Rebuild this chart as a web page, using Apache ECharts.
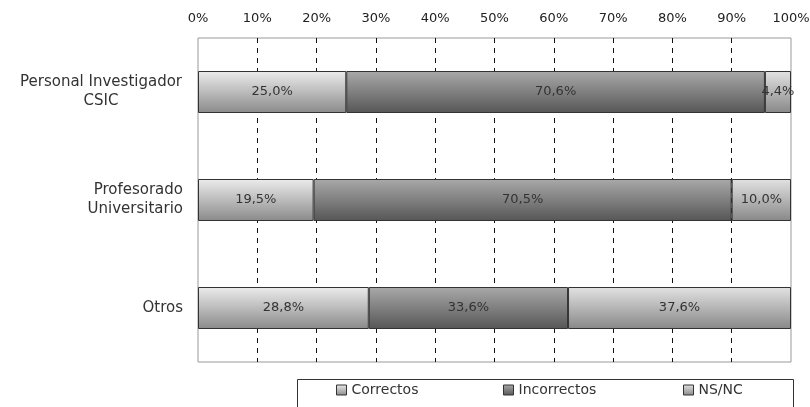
<!DOCTYPE html>
<html>
<head>
<meta charset="utf-8">
<script src="https://cdn.jsdelivr.net/npm/echarts@6/dist/echarts.min.js"></script>
<style>
  html, body { margin: 0; padding: 0; background: #fff; }
  #main { width: 810px; height: 407px; }
</style>
</head>
<body>
<div id="main"></div>
<script>
// datos
var categorias = ['Personal Investigador\nCSIC', 'Profesorado\nUniversitario', 'Otros'];
var correctos = [25.0, 19.5, 28.8];
var incorrectos = [70.6, 70.5, 33.6];
var nsnc = [4.4, 10.0, 37.6];
var ticksX = [0, 10, 20, 30, 40, 50, 60, 70, 80, 90, 100];

var fuente = 'DejaVu Sans';

function degradado(arriba, abajo) {
    return new echarts.graphic.LinearGradient(0, 0, 0, 1, [
        { offset: 0, color: arriba },
        { offset: 1, color: abajo }
    ]);
}

var claro = degradado('#ececec', '#8a8a8a');
var oscuro = degradado('#a9a9a9', '#565656');
var claro2 = degradado('#e2e2e2', '#888888');

function etiqueta(p) {
    return p.value.toFixed(1).replace('.', ',') + '%';
}

function serie(nombre, datos, color) {
    return {
        name: nombre,
        type: 'bar',
        stack: 'total',
        barWidth: 42,
        data: datos,
        itemStyle: { color: color, borderColor: '#333', borderWidth: 1 },
        label: {
            show: true,
            position: 'inside',
            formatter: etiqueta,
            color: '#333',
            fontFamily: fuente,
            fontSize: 13
        },
        emphasis: { disabled: true }
    };
}

function leyenda(nombre, x) {
    return {
        data: [nombre],
        left: x,
        top: 383,
        padding: 0,
        icon: 'rect',
        itemWidth: 10,
        itemHeight: 10,
        itemGap: 4,
        itemStyle: { borderColor: '#333', borderWidth: 1 },
        textStyle: { color: '#333', fontFamily: fuente, fontSize: 14 },
        selectedMode: false
    };
}

var myChart = echarts.init(document.getElementById('main'));

var option = {
    animation: false,
    grid: {
        left: 198,
        right: 19,
        top: 38,
        bottom: 45,
        outerBoundsMode: 'none',
        show: true,
        borderColor: '#999',
        borderWidth: 1
    },
    xAxis: {
        type: 'value',
        position: 'top',
        min: ticksX[0],
        max: ticksX[ticksX.length - 1],
        interval: 10,
        axisLine: { show: false },
        axisTick: { show: false },
        axisLabel: {
            formatter: '{value}%',
            color: '#222',
            fontFamily: fuente,
            fontSize: 13,
            margin: 13
        },
        splitLine: {
            showMinLine: false,
            showMaxLine: false,
            lineStyle: { color: '#111', type: [5, 5], width: 1 }
        }
    },
    yAxis: {
        type: 'category',
        inverse: true,
        data: categorias,
        axisLine: { show: false },
        axisTick: { show: false },
        axisLabel: {
            margin: 15,
            color: '#333',
            fontFamily: fuente,
            fontSize: 15,
            lineHeight: 19,
            formatter: function (v, i) {
                if (i === 0) return v.split('\n').map(function (s) { return '{a|' + s + '}'; }).join('\n');
                return v;
            },
            rich: {
                a: { width: 164, align: 'center', color: '#333', fontFamily: fuente, fontSize: 15, lineHeight: 19 }
            }
        }
    },
    legend: [
        leyenda('Correctos', 336),
        leyenda('Incorrectos', 503),
        leyenda('NS/NC', 683)
    ],
    graphic: [{
        type: 'rect',
        shape: { x: 297.5, y: 379.5, width: 496, height: 40 },
        style: { fill: 'none', stroke: '#333', lineWidth: 1 },
        silent: true
    }],
    series: [
        serie('Correctos', correctos, claro),
        serie('Incorrectos', incorrectos, oscuro),
        serie('NS/NC', nsnc, claro2)
    ]
};

myChart.setOption(option);
</script>
</body>
</html>
